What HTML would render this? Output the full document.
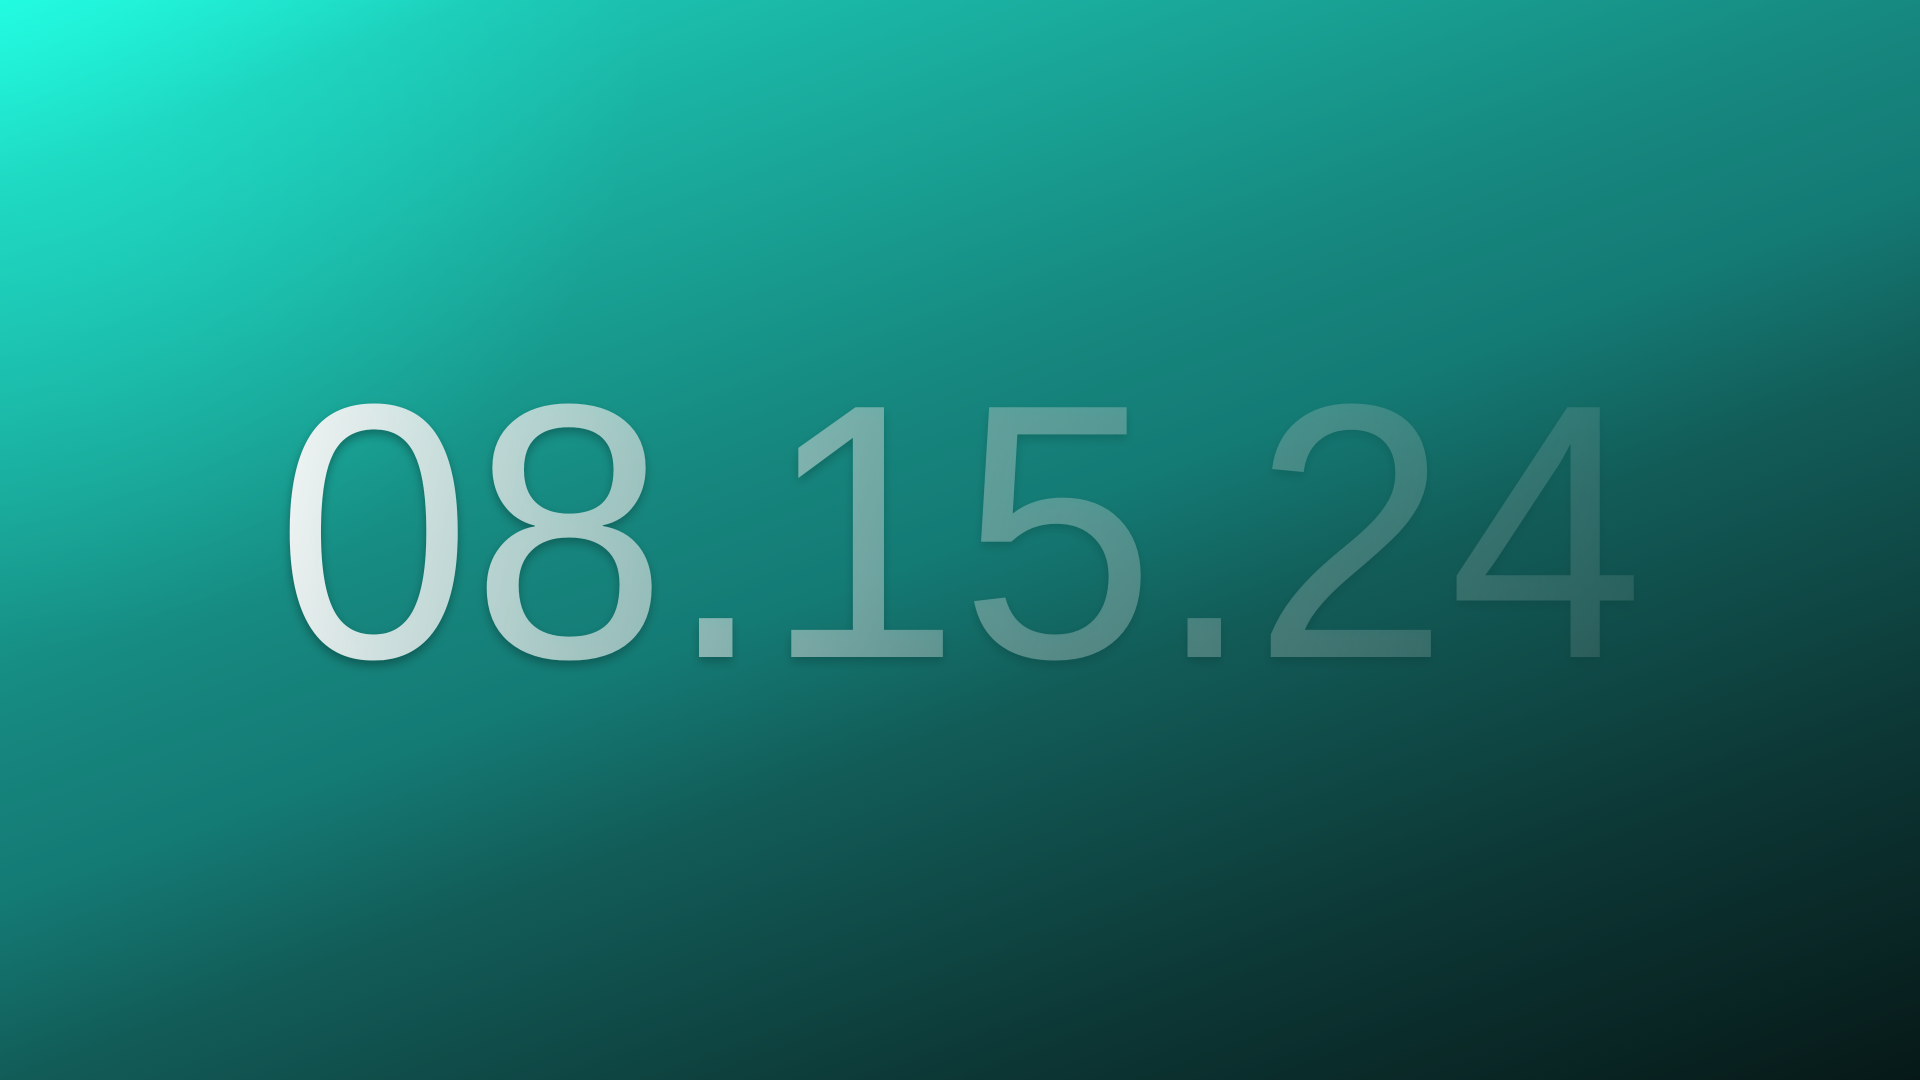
<!DOCTYPE html>
<html>
<head>
<meta charset="utf-8">
<style>
  html,body{margin:0;padding:0;width:1920px;height:1080px;overflow:hidden;}
  svg{display:block;}
</style>
</head>
<body>
<svg width="1920" height="1080" viewBox="0 0 1920 1080" xmlns="http://www.w3.org/2000/svg">
  <defs>
    <linearGradient id="bg" x1="0" y1="0" x2="590" y2="1586" gradientUnits="userSpaceOnUse">
      <stop offset="0" stop-color="#20f8de"/>
      <stop offset="0.1" stop-color="#1cc6b3"/>
      <stop offset="0.4" stop-color="#16887f"/>
      <stop offset="0.5" stop-color="#147a74"/>
      <stop offset="0.6" stop-color="#125c58"/>
      <stop offset="0.8" stop-color="#0c3634"/>
      <stop offset="1" stop-color="#061817"/>
    </linearGradient>
    <radialGradient id="glow" cx="0" cy="0" r="650" gradientUnits="userSpaceOnUse">
      <stop offset="0" stop-color="#24ffe2" stop-opacity="0.5"/>
      <stop offset="1" stop-color="#24ffe2" stop-opacity="0"/>
    </radialGradient>
    <linearGradient id="txt" x1="280" y1="400" x2="1650" y2="660" gradientUnits="userSpaceOnUse">
      <stop offset="0" stop-color="#f4f6f6" stop-opacity="1"/>
      <stop offset="0.2" stop-color="#cfe0de" stop-opacity="0.8"/>
      <stop offset="0.5" stop-color="#b0c8c6" stop-opacity="0.45"/>
      <stop offset="1" stop-color="#9ab4b2" stop-opacity="0.15"/>
    </linearGradient>
    <filter id="shadow" x="-10%" y="-20%" width="120%" height="140%">
      <feDropShadow dx="0" dy="5" stdDeviation="5" flood-color="#000" flood-opacity="0.35"/>
    </filter>
  </defs>
  <rect x="0" y="0" width="1920" height="1080" fill="url(#bg)"/>
  <rect x="0" y="0" width="1920" height="1080" fill="url(#glow)"/>
  <text x="960" y="657" text-anchor="middle"
        font-family="'Liberation Sans', sans-serif" font-size="363" font-weight="400"
        textLength="1368" lengthAdjust="spacingAndGlyphs"
        fill="url(#txt)" filter="url(#shadow)">08.15.24</text>
</svg>
</body>
</html>
